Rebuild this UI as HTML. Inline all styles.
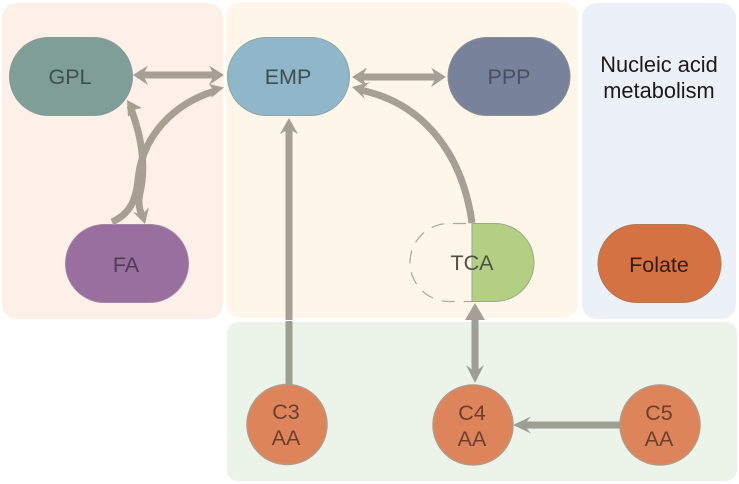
<!DOCTYPE html>
<html><head><meta charset="utf-8">
<style>
html,body{margin:0;padding:0;background:#fff}
svg{display:block}
text{font-family:"Liberation Sans",sans-serif;font-size:21.5px;text-anchor:middle}
</style></head><body>
<svg width="739" height="484" viewBox="0 0 739 484" xmlns="http://www.w3.org/2000/svg">
<rect width="739" height="484" fill="#fff"/>
<!-- panels -->
<rect x="2" y="3" width="221" height="316" rx="15" fill="#fdf0e9"/>
<rect x="226" y="2" width="352" height="316" rx="15" fill="#fef6e8"/>
<rect x="582" y="3" width="154" height="316" rx="15" fill="#ebf1f6"/>
<rect x="227" y="322" width="510" height="159" rx="11" fill="#ecf3e8"/>

<!-- nodes -->
<rect x="9.5" y="37.5" width="123" height="78" rx="39" fill="#7f9e98" stroke="#879c94"/>
<rect x="227.500" y="37.500" width="122" height="78" rx="39" fill="#8fb6c9" stroke="#8da69f"/>
<rect x="448" y="37.500" width="122" height="78" rx="39" fill="#79829b" stroke="#8b8f94"/>
<rect x="65.500" y="224.500" width="123" height="78" rx="39" fill="#986f9f" stroke="#a583a2"/>
<rect x="598" y="224.500" width="123" height="78" rx="39" fill="#d47242" stroke="#b3775a"/>
<!-- TCA -->
<path d="M472 223.500 H495 A39 39 0 0 1 495 301.500 H472 Z" fill="#b2cf84" stroke="#9aa888"/>
<path d="M472 223.500 H449 A39 39 0 0 0 449 301.500 H472" fill="none" stroke="#aaa79d" stroke-width="1.200" stroke-dasharray="13 9" stroke-dashoffset="-6"/>
<!-- circles -->
<circle cx="287" cy="424.500" r="40" fill="#de845b" stroke="#b49a84" stroke-width="1.500"/>
<circle cx="473" cy="425" r="40" fill="#de845b" stroke="#b49a84" stroke-width="1.500"/>
<circle cx="660" cy="425" r="40" fill="#de845b" stroke="#b49a84" stroke-width="1.500"/>

<!-- connectors -->
<g fill="none" stroke="#a89f94" stroke-width="7">
<path d="M142 75 H215"/>
<path d="M361 77 H437"/>
<path d="M130 106 C141 135 147 165 139.500 195 C138 205 140 212 143 217"/>
<path d="M112 222 C130 214 136 200 138 180 C142 135 175 103 215 91"/>
<path d="M472 223 C462 150 420 102 360 90"/>
<path d="M289 128 V320"/>
</g>
<g fill="none" stroke="#9c9f94" stroke-width="7">
<path d="M289 321 V385"/>
<path d="M475 320 V374"/>
<path d="M524 425 H620"/>
</g>
<g fill="#a89f94">
<polygon points="133,75 148,65.500 143,75 148,85"/>
<polygon points="224,75 209,65.500 214,75 209,85"/>
<polygon points="352,77 367,67.500 362,77 367,87"/>
<polygon points="446,77 431,67.500 436,77 431,87"/>
<polygon points="224,87.500 209,84 214,91 211,98"/>
<polygon points="352,87 370,82 361,90 365,99"/>
<polygon points="127,100 142,108 133,110 128,117"/>
<polygon points="145,224 133,212 142,215 149,207"/>
<polygon points="289,118 298,134 289,129 280,134"/>
<polygon points="475,303 485,320 465,320"/>
</g>
<g fill="#9c9f94">
<polygon points="475,383 466,365 475,372 484,365"/>
<polygon points="513,425 531,416.500 524,425 531,433.500"/>
</g>

<!-- labels -->
<g fill="#3e4f4e">
<text x="70" y="84">GPL</text>
<text x="288" y="84">EMP</text>
</g>
<text x="509" y="84" fill="#4a4f60">PPP</text>
<text x="126" y="272" fill="#4f3c54">FA</text>
<text x="472" y="270" fill="#4f4f45">TCA</text>
<text x="659" y="272" fill="#34190c">Folate</text>
<text x="659" y="72" fill="#1a1a1a" style="font-size:21.8px">Nucleic acid</text>
<text x="659" y="98" fill="#1a1a1a" style="font-size:21.8px">metabolism</text>
<g fill="#6a402b">
<text x="286" y="419">C3</text>
<text x="286" y="445">AA</text>
<text x="472" y="420">C4</text>
<text x="472" y="446">AA</text>
<text x="659" y="420">C5</text>
<text x="659" y="446">AA</text>
</g>
</svg>
</body></html>
